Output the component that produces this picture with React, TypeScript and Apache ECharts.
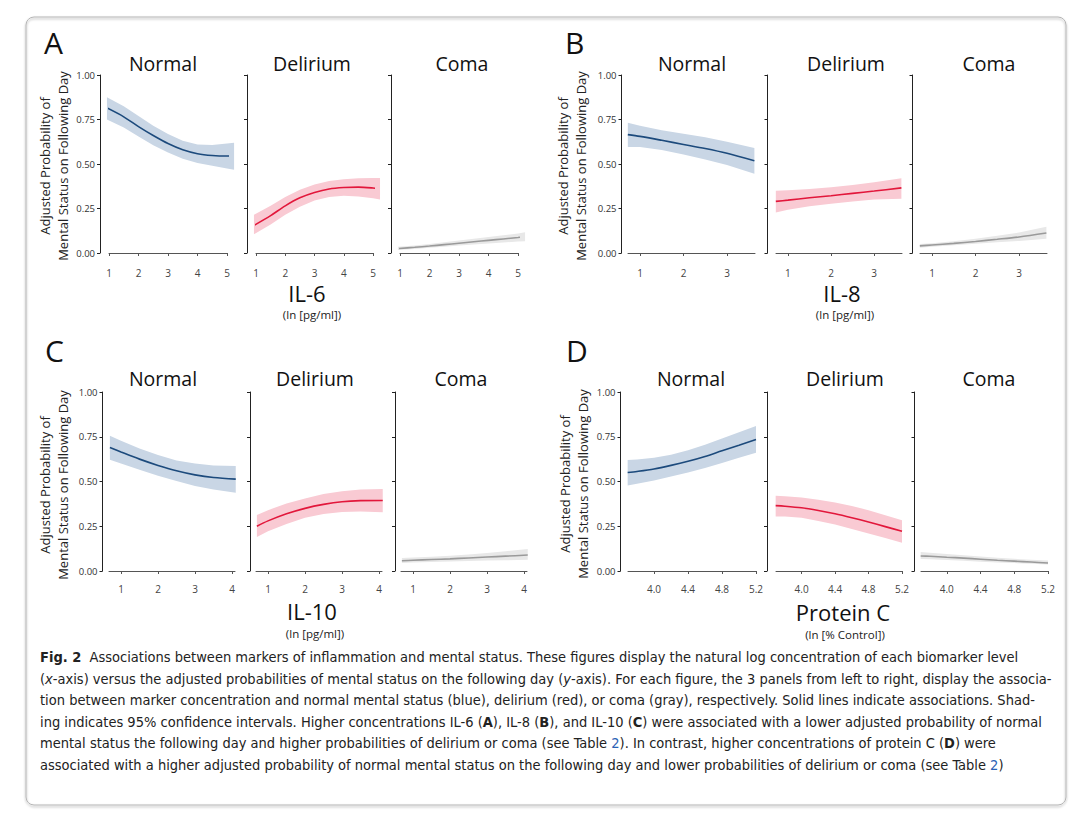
import React, { useEffect, useRef } from 'react';
import * as echarts from 'echarts';

// ---------- DATA ----------
const panelNames = ['Normal', 'Delirium', 'Coma'];
const yTicks = [0, 0.25, 0.5, 0.75, 1];

// A: IL-6
const xA = [0.93, 1.5, 2, 2.5, 3, 3.5, 4, 4.5, 5, 5.24];
const aNormalMean = [0.815, 0.765, 0.71, 0.66, 0.615, 0.58, 0.558, 0.548, 0.545, 0.545];
const aNormalUpper = [0.875, 0.825, 0.77, 0.715, 0.668, 0.63, 0.61, 0.607, 0.615, 0.62];
const aNormalLower = [0.75, 0.705, 0.655, 0.605, 0.565, 0.53, 0.505, 0.49, 0.475, 0.468];
const aDelMean = [0.155, 0.21, 0.265, 0.31, 0.34, 0.36, 0.368, 0.37, 0.365, 0.36];
const aDelUpper = [0.215, 0.265, 0.315, 0.355, 0.385, 0.405, 0.415, 0.42, 0.422, 0.422];
const aDelLower = [0.105, 0.16, 0.215, 0.26, 0.295, 0.315, 0.322, 0.318, 0.308, 0.3];
const aComaMean = [0.025, 0.032, 0.039, 0.047, 0.055, 0.063, 0.071, 0.079, 0.087, 0.091];
const aComaUpper = [0.035, 0.042, 0.05, 0.06, 0.07, 0.08, 0.09, 0.1, 0.11, 0.117];
const aComaLower = [0.017, 0.023, 0.029, 0.035, 0.042, 0.048, 0.054, 0.059, 0.064, 0.066];
const aTicks = [1, 2, 3, 4, 5];

// B: IL-8
const xB = [0.72, 1, 1.5, 2, 2.5, 3, 3.63];
const bNormalMean = [0.665, 0.655, 0.633, 0.61, 0.587, 0.56, 0.518];
const bNormalUpper = [0.732, 0.715, 0.69, 0.67, 0.65, 0.625, 0.59];
const bNormalLower = [0.595, 0.595, 0.578, 0.553, 0.525, 0.495, 0.445];
const bDelMean = [0.29, 0.297, 0.31, 0.322, 0.335, 0.348, 0.366];
const bDelUpper = [0.35, 0.352, 0.36, 0.37, 0.382, 0.397, 0.42];
const bDelLower = [0.228, 0.243, 0.262, 0.277, 0.29, 0.3, 0.305];
const bComaMean = [0.04, 0.045, 0.054, 0.065, 0.077, 0.09, 0.112];
const bComaUpper = [0.05, 0.055, 0.066, 0.08, 0.097, 0.115, 0.148];
const bComaLower = [0.03, 0.035, 0.043, 0.052, 0.06, 0.068, 0.08];
const bTicks = [1, 2, 3];

// C: IL-10
const xC = [0.7, 1, 1.5, 2, 2.5, 3, 3.5, 4.1];
const cNormalMean = [0.69, 0.665, 0.625, 0.59, 0.56, 0.537, 0.522, 0.513];
const cNormalUpper = [0.755, 0.728, 0.685, 0.648, 0.618, 0.6, 0.59, 0.587];
const cNormalLower = [0.622, 0.6, 0.565, 0.532, 0.503, 0.475, 0.455, 0.437];
const cDelMean = [0.25, 0.28, 0.32, 0.35, 0.372, 0.387, 0.393, 0.394];
const cDelUpper = [0.313, 0.34, 0.377, 0.405, 0.43, 0.445, 0.455, 0.458];
const cDelLower = [0.19, 0.222, 0.263, 0.297, 0.318, 0.33, 0.332, 0.328];
const cComaMean = [0.057, 0.06, 0.064, 0.068, 0.073, 0.078, 0.083, 0.089];
const cComaUpper = [0.072, 0.075, 0.08, 0.085, 0.092, 0.1, 0.11, 0.123];
const cComaLower = [0.044, 0.047, 0.05, 0.053, 0.056, 0.058, 0.06, 0.063];
const cTicks = [1, 2, 3, 4];

// D: Protein C
const xD = [3.69, 3.8, 4.0, 4.2, 4.4, 4.6, 4.8, 5.0, 5.2];
const dNormalMean = [0.55, 0.556, 0.57, 0.59, 0.613, 0.64, 0.672, 0.703, 0.735];
const dNormalUpper = [0.62, 0.623, 0.632, 0.65, 0.675, 0.705, 0.74, 0.775, 0.81];
const dNormalLower = [0.477, 0.487, 0.505, 0.528, 0.55, 0.575, 0.603, 0.633, 0.66];
const dDelMean = [0.365, 0.362, 0.353, 0.338, 0.32, 0.298, 0.274, 0.248, 0.222];
const dDelUpper = [0.42, 0.418, 0.41, 0.398, 0.383, 0.363, 0.34, 0.312, 0.283];
const dDelLower = [0.305, 0.305, 0.298, 0.28, 0.26, 0.235, 0.21, 0.184, 0.158];
const dComaMean = [0.084, 0.082, 0.077, 0.072, 0.066, 0.06, 0.055, 0.05, 0.045];
const dComaUpper = [0.106, 0.102, 0.095, 0.088, 0.081, 0.074, 0.068, 0.063, 0.058];
const dComaLower = [0.067, 0.065, 0.061, 0.057, 0.052, 0.048, 0.044, 0.04, 0.036];
const dTicks = [4.0, 4.4, 4.8, 5.2];

const captionLines = [
  '{b|Fig. 2}  Associations between markers of inflammation and mental status. These figures display the natural log concentration of each biomarker level',
  '({i|x}-axis) versus the adjusted probabilities of mental status on the following day ({i|y}-axis). For each figure, the 3 panels from left to right, display the associa-',
  'tion between marker concentration and normal mental status (blue), delirium (red), or coma (gray), respectively. Solid lines indicate associations. Shad-',
  'ing indicates 95% confidence intervals. Higher concentrations IL-6 ({b|A}), IL-8 ({b|B}), and IL-10 ({b|C}) were associated with a lower adjusted probability of normal',
  'mental status the following day and higher probabilities of delirium or coma (see Table {l|2}). In contrast, higher concentrations of protein C ({b|D}) were',
  'associated with a higher adjusted probability of normal mental status on the following day and lower probabilities of delirium or coma (see Table {l|2})',
];

// ---------- STYLE / LAYOUT ----------
const FONT = "'Open Sans', 'Noto Sans', sans-serif";
const CAP_FONT = "'Liberation Sans Narrow', 'DejaVu Sans Condensed', 'Liberation Sans', sans-serif";
const lineColors = ['#1c4a7c', '#e2173b', '#9a9a9a'];
const bandColors = ['#c9d6e5', '#f9cad3', '#e8e8e8'];

const figures = [
  {
    letter: 'A', letterX: 44, letterY: 42, xTitle: 'IL-6', xTitleX: 307, xTitleY: 293, sub: '(ln [pg/ml])', subX: 312, subY: 314,
    ylabX: 54, ylabY: 166, titleY: 63, top: 75, height: 178, xOffset: 10, min: 1, max: 5, ticks: aTicks, dec: 0, x: xA,
    panels: [
      { left: 109, width: 118, yOff: 9, titleX: 163, mean: aNormalMean, upper: aNormalUpper, lower: aNormalLower },
      { left: 256, width: 117, yOff: 9, titleX: 312, mean: aDelMean, upper: aDelUpper, lower: aDelLower },
      { left: 400, width: 118, yOff: 9, titleX: 462, mean: aComaMean, upper: aComaUpper, lower: aComaLower },
    ],
  },
  {
    letter: 'B', letterX: 565, letterY: 42, xTitle: 'IL-8', xTitleX: 842, xTitleY: 293, sub: '(ln [pg/ml])', subX: 845, subY: 314,
    ylabX: 572, ylabY: 166, titleY: 63, top: 75, height: 178, xOffset: 10, min: 0.724, max: 3.644, ticks: bTicks, dec: 0, x: xB,
    panels: [
      { left: 628, width: 127, yOff: 6.5, titleX: 692, mean: bNormalMean, upper: bNormalUpper, lower: bNormalLower },
      { left: 776, width: 126, yOff: 8.5, titleX: 846, mean: bDelMean, upper: bDelUpper, lower: bDelLower },
      { left: 920, width: 127, yOff: 7.5, titleX: 989, mean: bComaMean, upper: bComaUpper, lower: bComaLower },
    ],
  },
  {
    letter: 'C', letterX: 45, letterY: 350, xTitle: 'IL-10', xTitleX: 312, xTitleY: 611, sub: '(ln [pg/ml])', subX: 315, subY: 633,
    ylabX: 54, ylabY: 485, titleY: 378, top: 392, height: 179, xOffset: 8, min: 0.676, max: 4.08, ticks: cTicks, dec: 0, x: xC,
    panels: [
      { left: 109, width: 126, yOff: 6.5, titleX: 163, mean: cNormalMean, upper: cNormalUpper, lower: cNormalLower },
      { left: 256, width: 126, yOff: 6, titleX: 315, mean: cDelMean, upper: cDelUpper, lower: cDelLower },
      { left: 401, width: 126, yOff: 6, titleX: 461, mean: cComaMean, upper: cComaUpper, lower: cComaLower },
    ],
  },
  {
    letter: 'D', letterX: 566, letterY: 350, xTitle: 'Protein C', xTitleX: 843, xTitleY: 612, sub: '(ln [% Control])', subX: 845, subY: 634,
    ylabX: 574, ylabY: 484, titleY: 378, top: 392, height: 179, xOffset: 8, min: 3.694, max: 5.2, ticks: dTicks, dec: 1, x: xD,
    panels: [
      { left: 628, width: 128, yOff: 7.5, titleX: 691, mean: dNormalMean, upper: dNormalUpper, lower: dNormalLower },
      { left: 776, width: 126, yOff: 9, titleX: 845, mean: dDelMean, upper: dDelUpper, lower: dDelLower },
      { left: 921, width: 127, yOff: 6.5, titleX: 989, mean: dComaMean, upper: dComaUpper, lower: dComaLower },
    ],
  },
];

function buildOption() {
  const grid: any[] = [];
  const xAxis: any[] = [];
  const yAxis: any[] = [];
  const series: any[] = [];
  const graphic: any[] = [];

  graphic.push({
    type: 'rect',
    shape: { x: 26, y: 17, width: 1040, height: 788, r: 8 },
    style: { fill: 'rgba(255,255,255,0)', stroke: '#b5b5b5', lineWidth: 1, shadowBlur: 2, shadowOffsetY: 1.5, shadowColor: 'rgba(0,0,0,0.35)' },
    z: -10,
    silent: true,
  });

  let idx = 0;
  figures.forEach((f) => {
    graphic.push({
      type: 'text', x: f.letterX, y: f.letterY,
      style: { text: f.letter, fontFamily: FONT, fontSize: 30, fill: '#111', align: 'left', verticalAlign: 'middle' },
    });
    graphic.push({
      type: 'text', x: f.xTitleX, y: f.xTitleY,
      style: { text: f.xTitle, fontFamily: FONT, fontSize: 22, lineHeight: 20, fill: '#111', align: 'center', verticalAlign: 'middle' },
    });
    graphic.push({
      type: 'text', x: f.subX, y: f.subY,
      style: { text: f.sub, fontFamily: FONT, fontSize: 11.5, lineHeight: 12, fill: '#222', align: 'center', verticalAlign: 'middle' },
    });
    graphic.push({
      type: 'text', x: f.ylabX, y: f.ylabY, rotation: Math.PI / 2,
      style: {
        text: 'Adjusted Probability of\nMental Status on Following Day', fontFamily: FONT, fontSize: 13, lineHeight: 18,
        fill: '#222', align: 'center', verticalAlign: 'middle',
      },
    });

    f.panels.forEach((p, pi) => {
      graphic.push({
        type: 'text', x: p.titleX, y: f.titleY,
        style: { text: panelNames[pi], fontFamily: FONT, fontSize: 19.5, fill: '#111', align: 'center', verticalAlign: 'middle' },
      });
      grid.push({ left: p.left, width: p.width, top: f.top, height: f.height, containLabel: false });
      xAxis.push({
        type: 'value', gridIndex: idx, min: f.min, max: f.max, offset: f.xOffset,
        axisLine: { show: true, lineStyle: { color: '#555', width: 1 } },
        axisTick: { show: true, length: 3, lineStyle: { color: '#555' }, customValues: f.ticks },
        axisLabel: {
          show: true, customValues: f.ticks, fontSize: 10, color: '#444', fontFamily: FONT, margin: 5,
          formatter: (v: number) => v.toFixed(f.dec),
        },
        splitLine: { show: false },
      });
      yAxis.push({
        type: 'value', gridIndex: idx, min: 0, max: 1, interval: 0.25, offset: p.yOff,
        axisLine: { show: true, lineStyle: { color: '#222', width: 1 } },
        axisTick: { show: true, length: 3, lineStyle: { color: '#222' }, customValues: yTicks },
        axisLabel: {
          show: pi === 0, customValues: yTicks, fontSize: 9.5, color: '#333', fontFamily: FONT, margin: 5,
          formatter: (v: number) => v.toFixed(2),
        },
        splitLine: { show: false },
      });

      const xs = f.x;
      const lo = p.lower;
      const up = p.upper;
      const bandFill = bandColors[pi];
      series.push({
        type: 'custom', name: `band-${idx}`, xAxisIndex: idx, yAxisIndex: idx, silent: true, clip: false, z: 1,
        data: xs.map((v, k) => [v, lo[k], up[k]]),
        renderItem: (params: any, api: any) => {
          if (params.dataIndex !== 0) return null;
          const top = xs.map((v, k) => api.coord([v, up[k]]));
          const bottom = xs.map((v, k) => api.coord([v, lo[k]])).reverse();
          return {
            type: 'polygon',
            shape: { points: top.concat(bottom) },
            style: { fill: bandFill, stroke: 'none' },
          };
        },
      });
      series.push({
        type: 'line', name: `mean-${idx}`, xAxisIndex: idx, yAxisIndex: idx, symbol: 'none', smooth: 0.3,
        clip: false, silent: true, z: 3,
        data: xs.map((v, k) => [v, p.mean[k]]),
        lineStyle: { color: lineColors[pi], width: 1.6 },
      });
      idx++;
    });
  });

  const capStyle = { fontFamily: CAP_FONT, fontSize: 14.5, fill: '#222' };
  captionLines.forEach((t, i) => {
    graphic.push({
      type: 'text', x: 40, y: 657 + i * 21.6,
      style: {
        text: t, ...capStyle, align: 'left', verticalAlign: 'middle',
        rich: {
          b: { ...capStyle, fontWeight: 'bold' },
          i: { ...capStyle, fontStyle: 'italic' },
          l: { ...capStyle, fill: '#2a62b5' },
        },
      },
    });
  });

  return {
    animation: false,
    backgroundColor: '#fff',
    grid, xAxis, yAxis, series, graphic,
  };
}

export default function App() {
  const ref = useRef<HTMLDivElement>(null);
  useEffect(() => {
    if (!ref.current) return;
    const chart = echarts.init(ref.current, null, { renderer: 'svg' });
    chart.setOption(buildOption() as any);
    return () => chart.dispose();
  }, []);
  return (
    <div
      ref={ref}
      style={{ position: 'fixed', left: 0, top: 0, width: 1080, height: 822, background: '#fff' }}
    />
  );
}
